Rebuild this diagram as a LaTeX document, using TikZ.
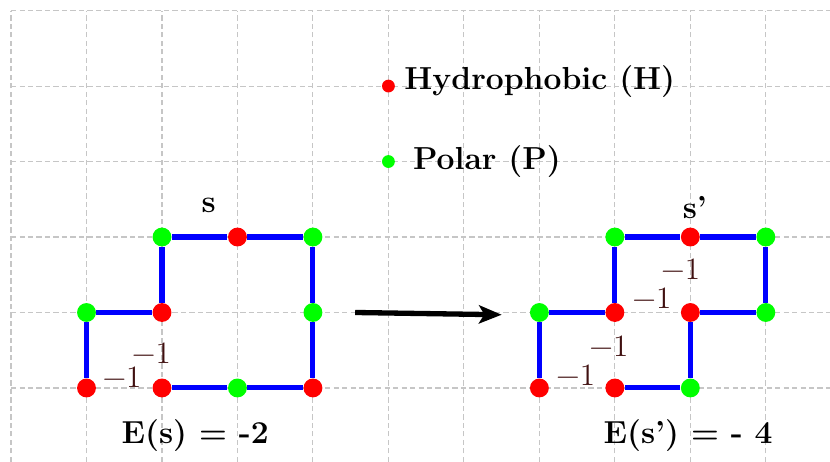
\documentclass[tikz,border=0pt]{standalone}
\usepackage{fontspec}
\usetikzlibrary{arrows.meta,positioning}
\definecolor{energybrown}{RGB}{64,16,16}
\begin{document}
\begin{tikzpicture}[
    every node/.style={
        font=\fontsize{11.7}{14}\selectfont
    },
    hydro/.style={circle, fill=red, inner sep=0pt, minimum size=0.25cm},
    polar/.style={circle, fill=green, inner sep=0pt, minimum size=0.25cm},
    legdot/.style={circle, inner sep=0pt, minimum size=0.17cm},
    bond/.style={blue, line width=1.9pt},
    gridline/.style={gray!45, dash pattern=on 2pt off 1.2pt, line width=0.4pt},
    energy/.style={anchor=base, text=energybrown, inner sep=0pt},
    title/.style={anchor=base, font=\fontsize{12}{14}\selectfont\bfseries, inner sep=0pt},
    arrow/.style={-{Stealth[length=0.3cm, width=0.24cm, inset=0.07cm]}, line width=2pt}
]
\useasboundingbox (-0.146,-0.98) rectangle (10.85,5.14);

% Grid
\draw[gridline] (0,-0.98) grid (10.85,5);

% Legend
\node (legh) [legdot, fill=red] at (5,4) {};
\node (legp) [legdot, fill=green] at (5,3) {};
\node (leghtext) [title, anchor=base west] at (5.205,3.95) {Hydrophobic (H)};
\node (legptext) [title, anchor=base west] at (5.32,2.89) {Polar (P)};

% Conformation s
\node (sh1) [hydro] at (1,0) {};
\node (sp1) [polar] at (1,1) {};
\node (sh2) [hydro] at (2,1) {};
\node (sp2) [polar] at (2,2) {};
\node (sh3) [hydro] at (3,2) {};
\node (sp3) [polar] at (4,2) {};
\node (sp4) [polar] at (4,1) {};
\node (sh4) [hydro] at (4,0) {};
\node (sp5) [polar] at (3,0) {};
\node (sh5) [hydro] at (2,0) {};

\draw[bond] (sh1) -- (sp1);
\draw[bond] (sp1) -- (sh2);
\draw[bond] (sh2) -- (sp2);
\draw[bond] (sp2) -- (sh3);
\draw[bond] (sh3) -- (sp3);
\draw[bond] (sp3) -- (sp4);
\draw[bond] (sp4) -- (sh4);
\draw[bond] (sh4) -- (sp5);
\draw[bond] (sp5) -- (sh5);

\node (slabel) [title] at (2.62,2.32) {s};
\node (se1) [energy] at (1.47,0.01) {−1};
\node (se2) [energy] at (1.86,0.33) {−1};
\node (senergy) [title] at (2.44,-0.73) {E(s) = -2};

% Conformation s'
\node (th1) [hydro] at (7,0) {};
\node (tp1) [polar] at (7,1) {};
\node (th2) [hydro] at (8,1) {};
\node (tp2) [polar] at (8,2) {};
\node (th3) [hydro] at (9,2) {};
\node (tp3) [polar] at (10,2) {};
\node (tp4) [polar] at (10,1) {};
\node (th4) [hydro] at (9,1) {};
\node (tp5) [polar] at (9,0) {};
\node (th5) [hydro] at (8,0) {};

\draw[bond] (th1) -- (tp1);
\draw[bond] (tp1) -- (th2);
\draw[bond] (th2) -- (tp2);
\draw[bond] (tp2) -- (th3);
\draw[bond] (th3) -- (tp3);
\draw[bond] (tp3) -- (tp4);
\draw[bond] (tp4) -- (th4);
\draw[bond] (th4) -- (tp5);
\draw[bond] (tp5) -- (th5);

\node (tlabel) [title] at (9.06,2.25) {s’};
\node (te1) [energy] at (7.48,0.03) {−1};
\node (te2) [energy] at (7.92,0.42) {−1};
\node (te3) [energy] at (8.49,1.05) {−1};
\node (te4) [energy] at (8.87,1.44) {−1};
\node (tenergy) [title] at (8.97,-0.73) {E(s’) = - 4};

% Arrow
\coordinate (movestart) at (4.56,1.0);
\coordinate (moveend) at (6.5,0.97);
\draw[arrow] (movestart) -- (moveend);

\end{tikzpicture}
\end{document}
